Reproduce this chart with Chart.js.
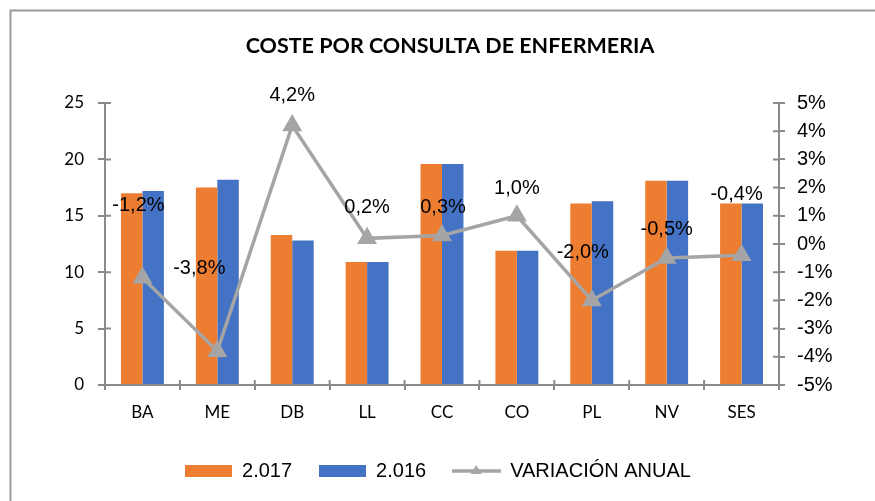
<!DOCTYPE html>
<html>
<head>
<meta charset="utf-8">
<script src="https://cdn.jsdelivr.net/npm/chart.js@4.4.0/dist/chart.umd.min.js"></script>
<style>
  html, body { margin: 0; padding: 0; background: #fff; }
</style>
</head>
<body>
<canvas id="chart" width="875" height="501"></canvas>
<script>
// Data
const categories = ['BA', 'ME', 'DB', 'LL', 'CC', 'CO', 'PL', 'NV', 'SES'];
const coste2017 = [17.0, 17.5, 13.3, 10.9, 19.6, 11.9, 16.1, 18.1, 16.1];
const coste2016 = [17.2, 18.2, 12.8, 10.9, 19.6, 11.9, 16.3, 18.1, 16.1];
const variacion = [-1.2, -3.8, 4.2, 0.2, 0.3, 1.0, -2.0, -0.5, -0.4];
const costeTicks = [0, 5, 10, 15, 20, 25];
const variacionTicks = [-5, -4, -3, -2, -1, 0, 1, 2, 3, 4, 5];

const AXIS = '#8A8A8A';
const ORANGE = '#ED7D31';
const BLUE = '#4472C4';
const GREY = '#A5A5A5';
const ARIAL = "'Liberation Sans', Arial, sans-serif";
const CALIBRI = "Lato, 'Open Sans', sans-serif";

// label nudges (Excel had them moved by hand)
const labelShift = [[-4, -72], [-18, -83], [0, -30], [0, -31], [1, -28], [0, -27], [-9, -48], [0, -29], [-5, -61]];

// legend icons
function boxIcon(color) {
    const c = document.createElement('canvas');
    c.width = 47; c.height = 12;
    const g = c.getContext('2d');
    g.fillStyle = color;
    g.fillRect(0, 0, 47, 12);
    return c;
}
function lineIcon() {
    const c = document.createElement('canvas');
    c.width = 49; c.height = 14;
    const g = c.getContext('2d');
    g.strokeStyle = GREY; g.lineWidth = 3.5;
    g.beginPath(); g.moveTo(0, 7); g.lineTo(49, 7); g.stroke();
    g.fillStyle = GREY;
    g.beginPath(); g.moveTo(24.5, 1); g.lineTo(30, 10); g.lineTo(19, 10); g.closePath(); g.fill();
    return c;
}
const legendIcons = [boxIcon(ORANGE), boxIcon(BLUE), lineIcon()];

const frame = {
    id: 'frame',
    beforeDraw(chart) {
        const ctx = chart.ctx;
        ctx.save();
        ctx.fillStyle = '#fff';
        ctx.fillRect(0, 0, chart.width, chart.height);
        ctx.strokeStyle = '#9A9A9A';
        ctx.lineWidth = 2;
        ctx.beginPath();
        ctx.moveTo(10.5, chart.height);
        ctx.lineTo(10.5, 10.5);
        ctx.lineTo(chart.width, 10.5);
        ctx.stroke();
        // title
        ctx.fillStyle = '#000';
        ctx.font = "bold 21.5px " + CALIBRI;
        ctx.textAlign = 'center';
        ctx.textBaseline = 'middle';
        ctx.fillText('COSTE POR CONSULTA DE ENFERMERIA', 450, 46);
        ctx.restore();
    }
};

// inward half of the crossing tick marks
const innerTicks = {
    id: 'innerTicks',
    afterDraw(chart) {
        const ctx = chart.ctx;
        const s = chart.scales;
        ctx.save();
        ctx.strokeStyle = AXIS;
        ctx.lineWidth = 2;
        ctx.beginPath();
        s.y.ticks.forEach((t, i) => {
            const py = s.y.getPixelForTick(i);
            ctx.moveTo(s.y.right, py); ctx.lineTo(s.y.right + 6, py);
        });
        s.y1.ticks.forEach((t, i) => {
            const py = s.y1.getPixelForTick(i);
            ctx.moveTo(s.y1.left, py); ctx.lineTo(s.y1.left - 6, py);
        });
        for (let i = 0; i <= categories.length; i++) {
            const px = s.x.left + i * (s.x.width / categories.length);
            ctx.moveTo(px, s.x.top); ctx.lineTo(px, s.x.top - 5);
        }
        ctx.stroke();
        ctx.restore();
    }
};

const pointLabels = {
    id: 'pointLabels',
    afterDatasetsDraw(chart) {
        const ctx = chart.ctx;
        const meta = chart.getDatasetMeta(2);
        ctx.save();
        ctx.fillStyle = '#000';
        ctx.font = "20px " + ARIAL;
        ctx.textAlign = 'center';
        ctx.textBaseline = 'middle';
        meta.data.forEach((pt, i) => {
            const txt = variacion[i].toFixed(1).replace('.', ',') + '%';
            ctx.fillText(txt, pt.x + labelShift[i][0], pt.y + labelShift[i][1]);
        });
        ctx.restore();
    }
};

new Chart(document.getElementById('chart'), {
    data: {
        labels: categories,
        datasets: [
            { type: 'bar', label: '2.017', data: coste2017, backgroundColor: ORANGE, yAxisID: 'y', order: 1,
              categoryPercentage: 0.573, barPercentage: 1.0 },
            { type: 'bar', label: '2.016', data: coste2016, backgroundColor: BLUE, yAxisID: 'y', order: 1,
              categoryPercentage: 0.573, barPercentage: 1.0 },
            { type: 'line', label: 'VARIACIÓN ANUAL', data: variacion, yAxisID: 'y1', order: 0,
              borderColor: GREY, borderWidth: 3.5, pointStyle: 'triangle', pointRadius: 8,
              pointBackgroundColor: GREY, pointBorderColor: GREY, tension: 0 }
        ]
    },
    options: {
        responsive: false,
        devicePixelRatio: 1,
        animation: false,
        layout: { padding: { top: 103, left: 0, right: 0, bottom: 10 } },
        plugins: {
            title: { display: false },
            tooltip: { enabled: false },
            legend: {
                position: 'bottom',
                labels: {
                    usePointStyle: true,
                    pointStyleWidth: 48,
                    boxHeight: 14,
                    padding: 26,
                    color: '#000',
                    font: { family: ARIAL, size: 20 },
                    sort: (a, b) => a.datasetIndex - b.datasetIndex,
                    generateLabels(chart) {
                        const items = Chart.defaults.plugins.legend.labels.generateLabels(chart);
                        items.forEach(it => { it.pointStyle = legendIcons[it.datasetIndex]; });
                        return items;
                    }
                }
            }
        },
        scales: {
            x: {
                afterFit: s => { s.height = 50; },
                grid: { offset: true, drawOnChartArea: false, tickLength: 5, color: AXIS, lineWidth: 2 },
                border: { color: AXIS, width: 2 },
                ticks: { color: '#000', padding: 12, font: { family: CALIBRI, size: 17 } }
            },
            y: {
                position: 'left',
                min: 0, max: 25,
                afterFit: s => { s.width = 105; },
                afterBuildTicks: s => { s.ticks = costeTicks.map(v => ({ value: v })); },
                grid: { drawOnChartArea: false, tickLength: 7, color: AXIS, lineWidth: 2 },
                border: { color: AXIS, width: 2 },
                ticks: { color: '#000', padding: 14, font: { family: CALIBRI, size: 17 } }
            },
            y1: {
                position: 'right',
                min: -5, max: 5,
                afterFit: s => { s.width = 96; },
                afterBuildTicks: s => { s.ticks = variacionTicks.map(v => ({ value: v })); },
                grid: { drawOnChartArea: false, tickLength: 6, color: AXIS, lineWidth: 2 },
                border: { color: AXIS, width: 2 },
                ticks: { color: '#000', padding: 12, font: { family: ARIAL, size: 20 },
                         callback: v => v + '%' }
            }
        }
    },
    plugins: [frame, innerTicks, pointLabels]
});
</script>
</body>
</html>
